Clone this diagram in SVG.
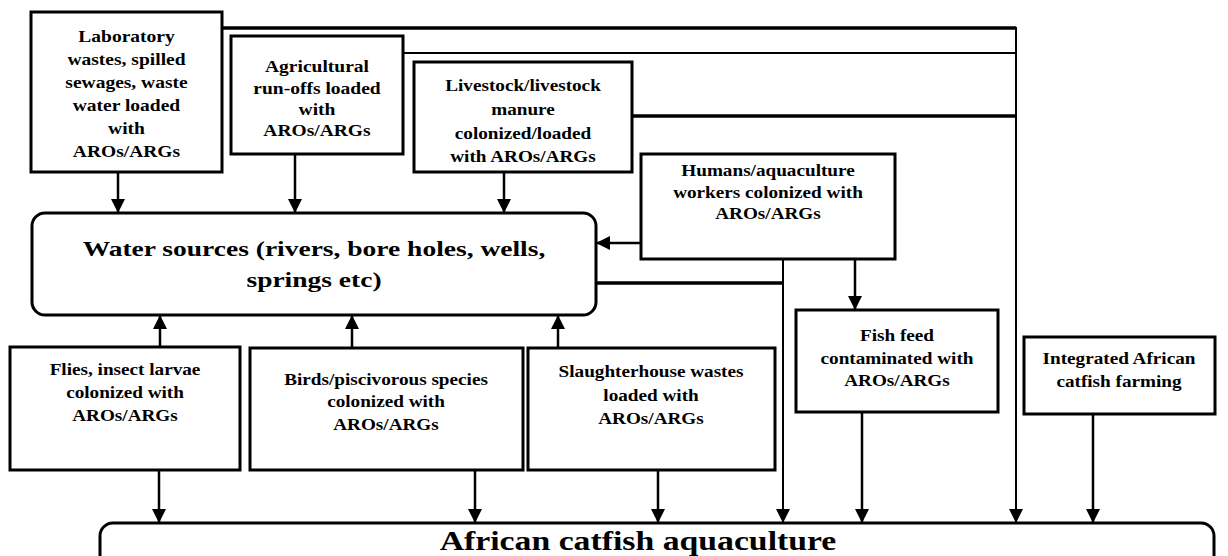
<svg xmlns="http://www.w3.org/2000/svg" width="1228" height="556" viewBox="0 0 1228 556">
<defs>
<style>
.box{fill:#fff;stroke:#000;stroke-width:3}
.t{font-family:"Liberation Serif","Times New Roman",serif;font-weight:bold;font-size:16px;fill:#000;text-anchor:middle}
.big{font-size:22px}
.huge{font-size:27px}
.c{fill:none;stroke:#000;stroke-width:2.5}
.thick{stroke-width:3.5}
.thin{stroke-width:2}
</style>
<marker id="ah" viewBox="0 0 14 14" refX="14" refY="7" markerWidth="14" markerHeight="14" markerUnits="userSpaceOnUse" orient="auto">
<path d="M0,0 L14,7 L0,14 Z" fill="#000"/>
</marker>
</defs>
<rect width="1228" height="556" fill="#fff"/>

<g id="connectors">
<path class="c thick" d="M222,28 H1016"/>
<path class="c thin" d="M403,53 H1016"/>
<path class="c thick" d="M632,116 H1016"/>
<path class="c thin" d="M1016,27 V523" marker-end="url(#ah)"/>
<path class="c" d="M118,172 V213" marker-end="url(#ah)"/>
<path class="c" d="M295,154 V213" marker-end="url(#ah)"/>
<path class="c" d="M504,172 V213" marker-end="url(#ah)"/>
<path class="c" d="M641,243 H596" marker-end="url(#ah)"/>
<path class="c thick" d="M596,283 H783"/>
<path class="c thin" d="M783,259 V523" marker-end="url(#ah)"/>
<path class="c" d="M855,259 V310" marker-end="url(#ah)"/>
<path class="c" d="M160,347 V315" marker-end="url(#ah)"/>
<path class="c" d="M352,348 V315" marker-end="url(#ah)"/>
<path class="c" d="M558,348 V315" marker-end="url(#ah)"/>
<path class="c" d="M159,470 V523" marker-end="url(#ah)"/>
<path class="c" d="M475,470 V523" marker-end="url(#ah)"/>
<path class="c" d="M658,470 V523" marker-end="url(#ah)"/>
<path class="c" d="M862,412 V523" marker-end="url(#ah)"/>
<path class="c" d="M1093,414 V523" marker-end="url(#ah)"/>
</g>

<g id="lab">
<rect class="box" x="31" y="12" width="191" height="160"/>
<text class="t" transform="translate(126.5 0) scale(1.22 1)"><tspan x="0" y="42">Laboratory</tspan><tspan x="0" y="65">wastes, spilled</tspan><tspan x="0" y="88">sewages, waste</tspan><tspan x="0" y="111">water loaded</tspan><tspan x="0" y="134">with</tspan><tspan x="0" y="157">AROs/ARGs</tspan></text>
</g>

<g id="agri">
<rect class="box" x="231" y="36" width="172" height="118"/>
<text class="t" transform="translate(317 0) scale(1.22 1)"><tspan x="0" y="72">Agricultural</tspan><tspan x="0" y="94">run-offs loaded</tspan><tspan x="0" y="115">with</tspan><tspan x="0" y="136">AROs/ARGs</tspan></text>
</g>

<g id="livestock">
<rect class="box" x="414" y="62" width="218" height="110"/>
<text class="t" transform="translate(523 0) scale(1.2 1)"><tspan x="0" y="91">Livestock/livestock</tspan><tspan x="0" y="115">manure</tspan><tspan x="0" y="139">colonized/loaded</tspan><tspan x="0" y="162">with AROs/ARGs</tspan></text>
</g>

<g id="humans">
<rect class="box" x="641" y="154" width="254" height="105"/>
<text class="t" transform="translate(768 0) scale(1.2 1)"><tspan x="0" y="176">Humans/aquaculture</tspan><tspan x="0" y="198">workers colonized with</tspan><tspan x="0" y="219">AROs/ARGs</tspan></text>
</g>

<g id="water">
<rect class="box" x="32" y="213" width="564" height="102" rx="13"/>
<text class="t big" transform="translate(314 0) scale(1.25 1)"><tspan x="0" y="256">Water sources (rivers, bore holes, wells,</tspan><tspan x="0" y="287">springs etc)</tspan></text>
</g>

<g id="flies">
<rect class="box" x="10" y="347" width="230" height="123"/>
<text class="t" transform="translate(125 0) scale(1.2 1)"><tspan x="0" y="375">Flies, insect larvae</tspan><tspan x="0" y="398">colonized with</tspan><tspan x="0" y="421">AROs/ARGs</tspan></text>
</g>

<g id="birds">
<rect class="box" x="250" y="348" width="273" height="122"/>
<text class="t" transform="translate(386 0) scale(1.2 1)"><tspan x="0" y="385">Birds/piscivorous species</tspan><tspan x="0" y="407">colonized with</tspan><tspan x="0" y="430">AROs/ARGs</tspan></text>
</g>

<g id="slaughter">
<rect class="box" x="528" y="348" width="247" height="122"/>
<text class="t" transform="translate(651 0) scale(1.2 1)"><tspan x="0" y="377">Slaughterhouse wastes</tspan><tspan x="0" y="401">loaded with</tspan><tspan x="0" y="424">AROs/ARGs</tspan></text>
</g>

<g id="feed">
<rect class="box" x="796" y="310" width="202" height="102"/>
<text class="t" transform="translate(897 0) scale(1.2 1)"><tspan x="0" y="341">Fish feed</tspan><tspan x="0" y="364">contaminated with</tspan><tspan x="0" y="386">AROs/ARGs</tspan></text>
</g>

<g id="integrated">
<rect class="box" x="1024" y="337" width="191" height="77"/>
<text class="t" transform="translate(1119 0) scale(1.2 1)"><tspan x="0" y="364">Integrated African</tspan><tspan x="0" y="387">catfish farming</tspan></text>
</g>

<g id="aquaculture">
<rect class="box" x="100" y="523" width="1114" height="70" rx="13"/>
<text class="t huge" transform="translate(638 0) scale(1.25 1)"><tspan x="0" y="550">African catfish aquaculture</tspan></text>
</g>
</svg>
